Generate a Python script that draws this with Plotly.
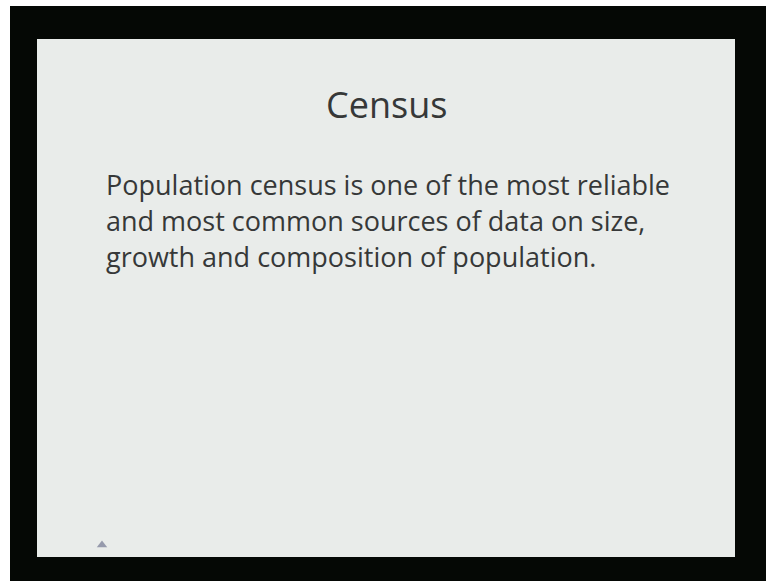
import plotly.graph_objects as go

title_text = "Census"
body_lines = [
    "Population census is one of the most reliable",
    "and most common sources of data on size,",
    "growth and composition of population.",
]

W, H = 766, 581
fig = go.Figure()

fig.add_trace(go.Scatter(x=[102], y=[545], mode="markers",
                         marker=dict(symbol="triangle-up", size=9, color="rgba(95,100,130,0.6)"),
                         hoverinfo="skip", showlegend=False))

shapes = [
    dict(type="rect", xref="x", yref="y", x0=10, x1=W, y0=6, y1=H,
         fillcolor="#050805", line=dict(width=0), layer="below"),
    dict(type="rect", xref="x", yref="y", x0=37, x1=735, y0=39, y1=557,
         fillcolor="#e9ecea", line=dict(width=0), layer="below"),
]

annotations = [
    dict(x=386, y=104, xref="x", yref="y", text=title_text, showarrow=False,
         xanchor="center", yanchor="middle",
         font=dict(family="Open Sans", size=36, color="#363838")),
]
line_y = [184, 220, 256]
for t, yy in zip(body_lines, line_y):
    annotations.append(dict(x=104, y=yy, xref="x", yref="y", text=t, showarrow=False,
                            xanchor="left", yanchor="middle",
                            font=dict(family="Open Sans", size=27, color="#363838")))

fig.update_layout(
    width=W, height=H,
    margin=dict(l=0, r=0, t=0, b=0),
    paper_bgcolor="white", plot_bgcolor="white",
    xaxis=dict(range=[0, W], visible=False, fixedrange=True),
    yaxis=dict(range=[H, 0], visible=False, fixedrange=True),
    shapes=shapes, annotations=annotations,
    showlegend=False,
)
fig.write_html("out.html", config={"displayModeBar": False},
               post_script="document.body.style.margin='0px';document.body.style.overflow='hidden';")
